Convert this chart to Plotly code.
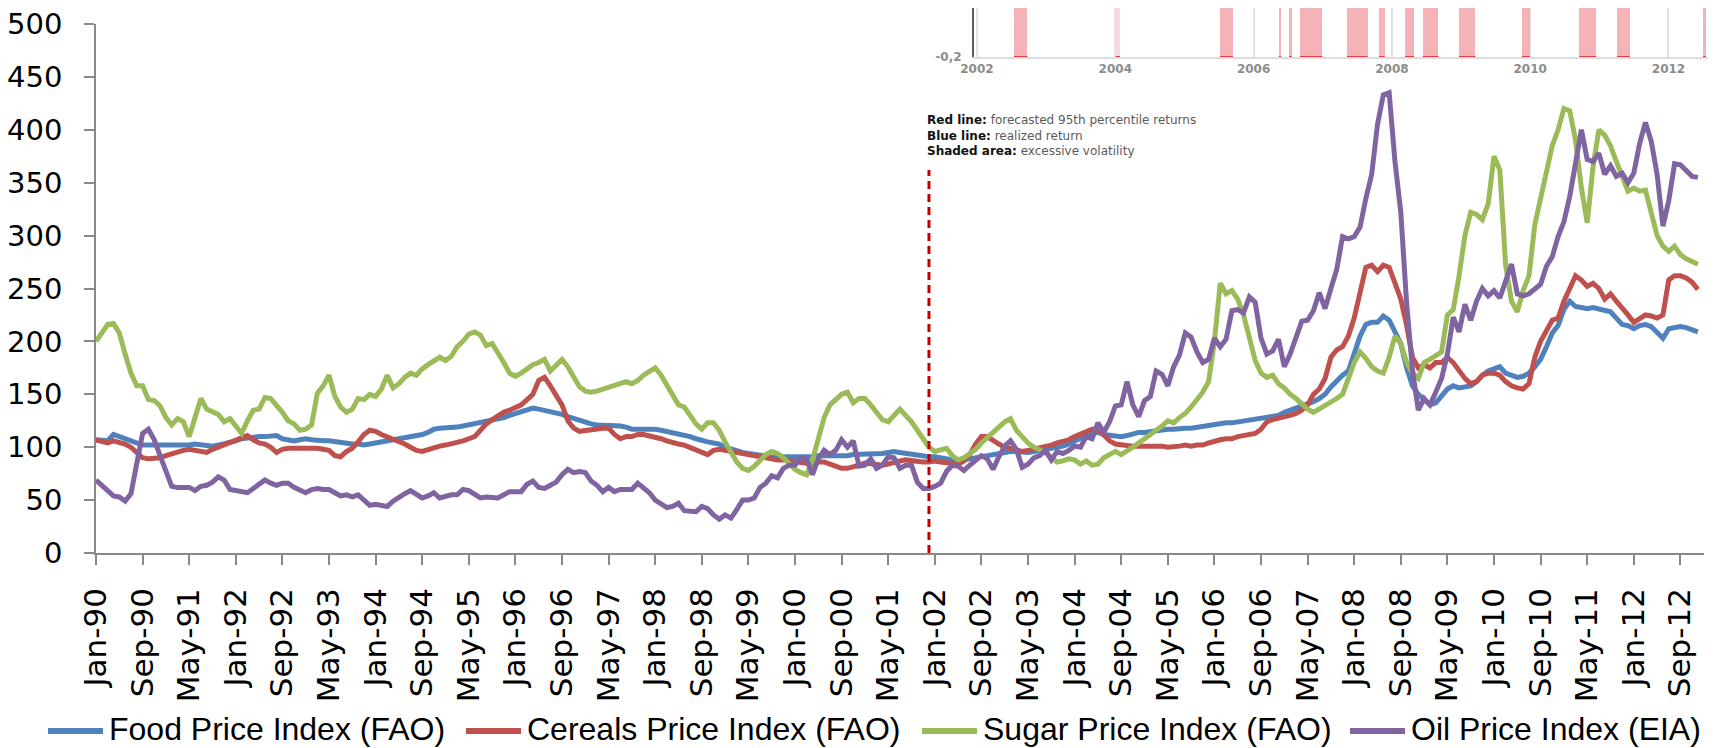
import plotly.graph_objects as go
import pandas as pd

# ---------------- data ----------------
months = pd.date_range("1990-01-01", "2012-12-01", freq="MS")
month_labels = [d.strftime("%b-%y") for d in months]
month_idx = list(range(len(months)))
tick_idx = month_idx[::8]
tick_text = [month_labels[i] for i in tick_idx]

food = [
    107, 107, 106, 112, 110, 108, 106, 104, 102, 102, 102, 101,
    101, 101, 101, 101, 102, 103, 102, 101, 101, 102, 103, 104,
    106, 108, 109, 109, 110, 110, 111, 111, 108, 107, 106, 107,
    108, 107, 106, 106, 106, 105, 105, 104, 103, 103, 102, 103,
    104, 105, 106, 107, 108, 108, 109, 110, 112, 114, 117, 118,
    118, 119, 119, 120, 121, 122, 123, 125, 126, 126, 128, 130,
    132, 134, 136, 137, 136, 135, 134, 133, 131, 129, 127, 125,
    123, 122, 121, 121, 121, 121, 120, 119, 117, 117, 117, 118,
    117, 116, 115, 114, 113, 112, 110, 108, 106, 105, 104, 103,
    100, 98, 96, 95, 94, 93, 92, 91, 91, 90, 91, 91,
    90, 90, 90, 91, 92, 92, 91, 91, 92, 92, 93, 93,
    93, 93, 93, 94, 95, 96, 95, 94, 93, 93, 92, 91,
    91, 90, 88, 87, 87, 88, 89, 91, 92, 93, 94, 94,
    95, 96, 96, 95, 95, 96, 97, 97, 98, 100, 101, 103,
    106, 109, 111, 113, 114, 112, 111, 110, 110, 111, 113, 114,
    114, 115, 116, 117, 117, 117, 118, 118, 118, 119, 120, 121,
    121, 122, 123, 123, 124, 125, 125, 126, 127, 128, 129, 130,
    133, 135, 136, 138, 140, 143, 146, 150, 157, 163, 168, 172,
    190, 205, 216, 218, 218, 224, 220, 210, 198, 175, 158, 150,
    145, 140, 142, 148, 155, 158, 156, 157, 158, 162, 168, 172,
    174, 176, 170, 168, 166, 167, 170, 176, 183, 195, 208, 215,
    230, 238, 233, 232, 231, 232, 231, 230, 228, 222, 216, 215,
    212, 215, 216, 214, 208, 203, 212, 213, 214, 213, 211, 209,
]

cereals = [
    107, 105, 104, 106, 105, 103, 100, 95, 90, 89, 89, 90,
    92, 94, 96, 97, 98, 97, 96, 95, 98, 100, 103, 104,
    106, 108, 111, 107, 104, 103, 100, 95, 98, 99, 99, 100,
    99, 99, 99, 98, 97, 92, 91, 96, 99, 105, 112, 116,
    115, 112, 110, 107, 105, 103, 100, 97, 96, 98, 100, 101,
    102, 103, 104, 106, 108, 110, 116, 122, 126, 130, 133, 135,
    137, 140, 145, 150, 163, 166, 158, 150, 140, 125, 118, 115,
    116, 116, 117, 118, 118, 112, 108, 110, 110, 112, 112, 111,
    110, 108, 106, 104, 103, 102, 100, 97, 95, 93, 97, 98,
    97, 96, 94, 93, 92, 91, 90, 90, 89, 88, 88, 87,
    86, 85, 85, 84, 86, 86, 84, 82, 80, 80, 81, 83,
    85, 84, 83, 83, 84, 86, 87, 88, 87, 86, 86, 86,
    87, 86, 85, 84, 84, 87, 93, 103, 110, 110, 106, 103,
    100, 99, 97, 96, 97, 98, 99, 100, 102, 104, 105, 107,
    110, 112, 114, 117, 117, 112, 106, 103, 102, 101, 101, 101,
    101, 102, 102, 101, 100, 100, 101, 102, 101, 102, 102, 104,
    106, 107, 108, 108, 110, 111, 112, 113, 117, 124, 126, 127,
    128, 130, 132, 135, 140, 150, 155, 165, 185, 192, 195, 205,
    222, 245, 270, 272, 266, 272, 270, 255, 240, 215, 185, 175,
    178, 175, 180, 180, 185, 180, 172, 165, 160, 162, 168, 170,
    170, 168, 162, 158, 156, 155, 160, 185, 200, 210, 220, 222,
    238, 250, 262, 258, 252, 255, 250, 240, 245, 238, 232, 225,
    218, 222, 225, 224, 222, 225, 258, 262, 262, 260, 256, 249,
]

sugar = [
    200, 208, 216, 217, 208, 188, 170, 158, 158, 145, 144, 139,
    128, 121, 127, 124, 110, 128, 146, 136, 133, 131, 124, 127,
    120, 113, 125, 135, 136, 147, 146, 140, 133, 125, 122, 116,
    117, 121, 151, 158, 168, 148, 138, 133, 136, 146, 145, 150,
    148, 155, 168, 156, 160, 166, 170, 168, 174, 178, 181, 185,
    182, 186, 195, 200, 207, 209, 206, 196, 198, 190, 180, 170,
    167, 170, 174, 178, 180, 183, 172, 177, 183, 176, 166, 157,
    153, 152, 153, 155, 157, 158, 160, 162, 160, 163, 168, 172,
    175, 168, 158, 148, 140, 138, 130, 122, 117, 123, 123, 116,
    105, 95, 86, 80, 78, 82, 88, 93, 96, 94, 90, 85,
    79, 76, 74, 88, 108, 128, 140, 145, 150, 152, 142, 146,
    146, 140, 133, 126, 124, 130, 136, 130, 124, 116, 108, 100,
    96, 97, 99, 92, 88, 90, 94, 98, 104, 109, 114, 120,
    124, 127, 116, 110, 104, 100, 97, 95, 90, 86, 87, 89,
    88, 84, 87, 83, 84, 90, 93, 96, 93, 96, 100, 104,
    108, 112, 115, 120, 125, 123, 128, 132, 138, 145, 152, 162,
    200, 255, 245, 248, 240, 225, 205, 182, 170, 166, 168, 160,
    156, 150, 146, 141, 136, 133, 136, 140, 142, 146, 150, 165,
    180, 190, 184, 176, 172, 170, 185, 205, 198, 180, 170, 165,
    180, 183, 186, 190, 225, 230, 262, 300, 322, 320, 315, 330,
    375, 362, 272, 238, 228, 248, 262, 310, 335, 362, 385, 400,
    420, 418, 390, 345, 312, 365, 400, 395, 385, 370, 355, 342,
    345, 342, 343, 320, 300, 290, 285, 290, 282, 278, 275, 273,
]

oil = [
    69, 64, 60, 54, 53, 49, 56, 88, 113, 117, 107, 92,
    77, 63, 62, 62, 62, 59, 63, 64, 67, 72, 69, 60,
    59, 59, 57, 61, 65, 69, 66, 64, 66, 66, 62, 59,
    57, 60, 61, 60, 60, 57, 54, 55, 53, 55, 50, 45,
    46, 45, 44, 49, 53, 56, 59, 55, 52, 54, 57, 52,
    54, 55, 55, 60, 59, 56, 52, 53, 53, 52, 55, 58,
    58, 58, 65, 68, 62, 61, 64, 67, 74, 79, 76, 77,
    76, 68, 64, 58, 62, 58, 60, 60, 60, 66, 62, 57,
    50, 46, 43, 44, 47, 40, 39, 39, 44, 42, 36, 32,
    36, 33, 41, 50, 50, 52, 62, 66, 73, 71, 80, 83,
    83, 90, 89, 74, 89, 97, 93, 97, 107, 100, 106, 82,
    83, 89, 80, 83, 91, 90, 80, 83, 83, 67, 61, 61,
    63, 66, 77, 83, 82, 78, 83, 87, 92, 89, 79, 91,
    101, 106, 98, 81, 84, 90, 92, 97, 88, 96, 94, 97,
    101, 100, 110, 108, 123, 114, 124, 139, 140, 162, 140, 129,
    144, 148, 172, 169, 158, 176, 187, 208, 204, 190, 180, 183,
    203, 195, 202, 229, 230, 227, 242, 237, 203, 188, 191, 202,
    176, 188, 202, 219, 220, 229, 246, 231, 250, 268, 299, 297,
    299, 308, 335, 358, 405, 433, 435, 370, 322, 236, 173, 135,
    146, 140, 152, 165, 188, 223, 209, 235, 220, 238, 250, 243,
    248, 241, 257, 273, 245, 243, 245, 250, 254, 271, 280, 299,
    313, 337, 372, 400, 372, 370, 378, 358, 366, 356, 359, 350,
    359, 387, 407, 389, 358, 309, 333, 368, 367, 362, 356, 355,
]

series_names = ["Food Price Index (FAO)", "Cereals Price Index (FAO)",
                "Sugar Price Index (FAO)", "Oil Price Index (EIA)"]
series_values = [food, cereals, sugar, oil]
series_colors = ["#4F81BD", "#C0504D", "#9BBB59", "#8064A2"]

marker_month = "Dec-01"
marker_top = 362

# inset (pasted volatility chart)
inset_years = [2002, 2004, 2006, 2008, 2010, 2012]
vol_start = [2002.535, 2004.007, 2005.514, 2006.363, 2006.512, 2006.668, 2007.351,
             2007.813, 2008.189, 2008.444, 2008.971, 2009.878, 2010.710, 2011.254, 2012.499]
vol_end = [2002.729, 2004.068, 2005.702, 2006.401, 2006.555, 2006.995, 2007.649,
           2007.894, 2008.319, 2008.674, 2009.209, 2009.997, 2010.956, 2011.439, 2012.543]
vol_shade = ["#f5b3b7", "#f9d9db", "#f5b3b7", "#f5b3b7", "#f5b3b7", "#f5b3b7", "#f5b3b7",
             "#f5b3b7", "#f5b3b7", "#f5b3b7", "#f5b3b7", "#f5b3b7", "#f5b3b7", "#f5b3b7", "#f5b3b7"]
inset_notes = [("Red line:", "forecasted 95th percentile returns"),
               ("Blue line:", "realized return"),
               ("Shaded area:", "excessive volatility")]

# ---------------- geometry (page pixels; the page body has an 8px margin) ----------------
OFF = 8
W, H = 1716 - OFF, 748 - OFF
PLOT_LEFT, PLOT_BOTTOM = 96, 553          # page coords of the axis corner
L = PLOT_LEFT - OFF
B = H - (PLOT_BOTTOM - OFF)
plot_w = W - L
plot_h = H - B


def px_x(px):
    return (px - OFF - L) / plot_w


def px_y(py):
    return (PLOT_BOTTOM - py) / plot_h


fig = go.Figure()

for name, vals, col in zip(series_names, series_values, series_colors):
    fig.add_trace(go.Scatter(x=month_idx, y=vals, name=name, mode="lines",
                             line=dict(color=col, width=5), xaxis="x", yaxis="y",
                             showlegend=False))

# inset shaded volatility bars
fig.add_trace(go.Bar(
    x=[(s + e) / 2 for s, e in zip(vol_start, vol_end)],
    width=[e - s for s, e in zip(vol_start, vol_end)],
    y=[0.2] * len(vol_start), base=-0.2,
    marker=dict(color=vol_shade, line=dict(width=0)),
    xaxis="x2", yaxis="y2", showlegend=False, hoverinfo="skip"))

shapes = []
for s, e in zip(vol_start, vol_end):
    shapes.append(dict(type="line", xref="x2", yref="y2", x0=s, x1=e, y0=-0.2, y1=-0.2,
                       line=dict(color="#e23c48", width=2)))

mi = month_labels.index(marker_month)
shapes.append(dict(type="line", xref="x", yref="y", x0=mi, x1=mi, y0=0, y1=marker_top,
                   line=dict(color="#C00000", width=3, dash="8px,5px")))

annotations = []
note_text = "<br>".join(f"<b>{b}</b> <span style='color:#5a5a5a'>{r}</span>"
                        for b, r in inset_notes)
annotations.append(dict(
    xref="paper", yref="paper", x=px_x(925), y=px_y(135.5),
    xanchor="left", yanchor="middle", align="left", showarrow=False,
    text=note_text, font=dict(family="DejaVu Sans", size=12, color="#111111")))

# legend (drawn below the axis, one entry per series)
legend_line_x = [48, 466, 922, 1350]
legend_line_len = 55
legend_y = 729
for name, col, lx in zip(series_names, series_colors, legend_line_x):
    shapes.append(dict(type="line", xref="paper", yref="paper",
                       x0=px_x(lx), x1=px_x(lx + legend_line_len),
                       y0=px_y(legend_y + 2), y1=px_y(legend_y + 2),
                       line=dict(color=col, width=6)))
    annotations.append(dict(
        xref="paper", yref="paper", x=px_x(lx + legend_line_len + 4), y=px_y(legend_y),
        xanchor="left", yanchor="middle", showarrow=False, text=name,
        font=dict(family="Liberation Sans", size=32, color="black")))

axis_gray = "#898989"
fig.update_layout(
    width=W, height=H,
    margin=dict(l=L, r=0, t=0, b=B, pad=0, autoexpand=False),
    paper_bgcolor="white", plot_bgcolor="rgba(0,0,0,0)",
    bargap=0,
    showlegend=False,
    xaxis=dict(domain=[0, px_x(1703.7)], range=[0, 276], automargin=False,
               tickmode="array", tickvals=tick_idx, ticktext=tick_text, tickangle=-90,
               ticks="outside", ticklen=10, tickwidth=1.5, tickcolor=axis_gray,
               showline=True, linecolor=axis_gray, linewidth=1.5,
               showgrid=False, zeroline=False, ticklabelstandoff=11,
               ticklabeloverflow="allow",
               tickfont=dict(family="DejaVu Sans", size=31, color="black")),
    yaxis=dict(domain=[0, px_y(24)], range=[0, 500], automargin=False,
               tickmode="linear", tick0=0, dtick=50,
               ticks="outside", ticklen=10, tickwidth=1.5, tickcolor=axis_gray,
               showline=True, linecolor=axis_gray, linewidth=1.5,
               showgrid=False, zeroline=False, ticklabelstandoff=16,
               ticklabeloverflow="allow",
               tickfont=dict(family="DejaVu Sans", size=29, color="black")),
    xaxis2=dict(domain=[px_x(974), 1], anchor="y2", automargin=False,
                range=[2001.957, 2012.687], tickmode="array", tickvals=inset_years,
                ticktext=[str(y) for y in inset_years], ticks="",
                showline=True, linecolor="#dddddd", linewidth=2,
                showgrid=True, gridcolor="#e2e2e2", gridwidth=1.5, zeroline=False,
                tickfont=dict(family="DejaVu Sans", size=12, color="#8c8c8c", weight="bold")),
    yaxis2=dict(domain=[px_y(57), 1], anchor="x2", range=[-0.2, 0], automargin=False,
                tickmode="array", tickvals=[-0.2], ticktext=["-0,2"], ticks="",
                showline=True, linecolor="#5e5e5e", linewidth=2,
                showgrid=False, zeroline=False, ticklabelstandoff=8,
                tickfont=dict(family="DejaVu Sans", size=12, color="#8c8c8c", weight="bold")),
    shapes=shapes,
    annotations=annotations,
)

fig.write_html("out.html")
